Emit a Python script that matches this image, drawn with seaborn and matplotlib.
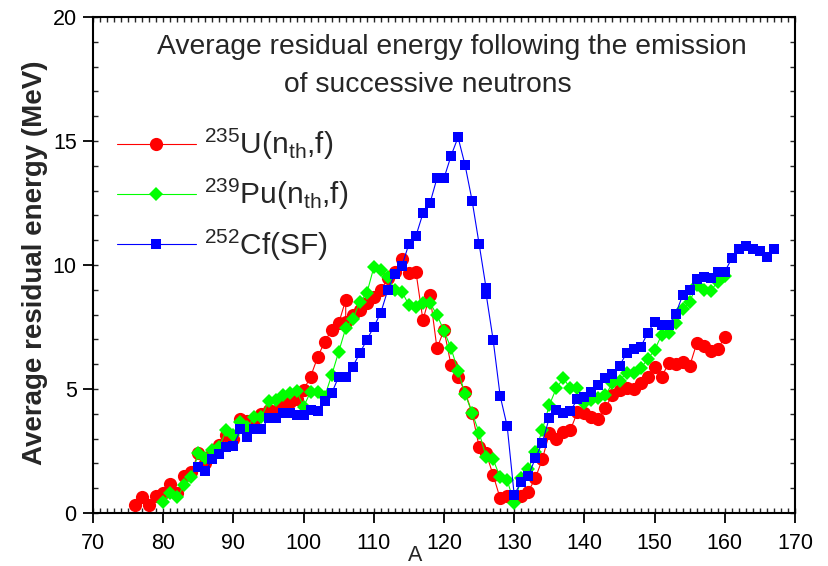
import matplotlib
matplotlib.use("Agg")
import matplotlib.pyplot as plt
import seaborn as sns
from matplotlib.ticker import MultipleLocator

# Mass number A and average residual energy (MeV) for each fissioning system
u235_A = [76, 77, 78, 79, 80, 81, 82, 83, 84, 85, 86, 87, 88, 89, 90, 91, 92, 93, 94, 95,
          96, 97, 98, 99, 100, 101, 102, 103, 104, 105, 106, 106, 107, 108, 109, 110, 111,
          112, 113, 114, 115, 116, 117, 118, 119, 120, 121, 122, 123, 124, 125, 126, 127,
          128, 129, 130, 131, 132, 133, 134, 135, 136, 137, 138, 139, 140, 141, 142, 143,
          144, 145, 146, 147, 148, 149, 150, 151, 152, 153, 154, 155, 156, 157, 158, 159, 160]
u235_E = [0.32, 0.64, 0.32, 0.68, 0.79, 1.16, 0.82, 1.49, 1.67, 2.40, 2.00, 2.43, 2.74, 3.15,
          3.00, 3.80, 3.70, 3.75, 4.00, 4.15, 4.10, 4.30, 4.49, 4.60, 4.96, 5.50, 6.28, 6.91,
          7.38, 7.65, 8.59, 7.71, 7.98, 8.19, 8.46, 8.72, 8.99, 9.46, 9.70, 10.23, 9.66, 9.73,
          7.78, 8.80, 6.64, 7.38, 5.97, 5.47, 4.89, 4.04, 2.67, 2.40, 1.53, 0.59, 0.69, 0.60,
          0.69, 0.86, 1.40, 2.16, 3.21, 3.00, 3.28, 3.35, 4.06, 4.02, 3.88, 3.78, 4.25, 4.76,
          4.96, 5.03, 4.99, 5.25, 5.50, 5.88, 5.50, 6.03, 6.01, 6.10, 5.93, 6.84, 6.73, 6.53,
          6.60, 7.11]

pu239_A = list(range(80, 161))
pu239_E = [0.46, 0.79, 0.63, 1.13, 1.47, 2.40, 2.20, 2.54, 2.67, 3.35, 3.15, 3.68, 3.45,
           3.88, 3.88, 4.50, 4.57, 4.76, 4.83, 4.93, 4.29, 4.89, 4.89, 4.69, 5.56, 6.50,
           7.45, 7.81, 8.52, 8.86, 9.90, 9.80, 9.50, 9.00, 8.92, 8.39, 8.29, 8.46, 8.48,
           7.98, 7.35, 6.64, 5.74, 4.80, 4.04, 3.24, 2.27, 2.16, 1.44, 1.33, 0.39, 1.40,
           1.76, 2.47, 3.35, 4.35, 5.03, 5.43, 5.03, 5.03, 4.45, 4.56, 4.62, 4.76, 5.23,
           5.33, 5.66, 5.63, 5.83, 6.20, 6.57, 7.18, 7.25, 7.65, 8.21, 8.52, 9.19, 8.99,
           8.96, 9.33, 9.56]

cf252_A = [85, 86, 87, 88, 89, 90, 91, 92, 93, 94, 95, 96, 97, 98, 99, 100, 101, 102, 103,
           104, 105, 106, 107, 108, 109, 110, 111, 112, 113, 114, 115, 116, 117, 118, 119,
           120, 121, 122, 123, 124, 125, 126, 126, 127, 128, 129, 130, 131, 132, 133, 134,
           135, 136, 137, 138, 139, 140, 141, 142, 143, 144, 145, 146, 147, 148, 149, 150,
           151, 152, 153, 154, 155, 156, 157, 158, 159, 160, 161, 162, 163, 164, 165, 166, 167]
cf252_E = [1.87, 1.70, 2.16, 2.38, 2.67, 2.70, 3.37, 3.08, 3.37, 3.37, 3.82, 3.82, 4.05,
           4.05, 3.95, 3.95, 4.15, 4.10, 4.50, 4.83, 5.50, 5.50, 5.90, 6.44, 6.98, 7.50,
           8.08, 9.00, 9.64, 9.96, 10.85, 11.17, 12.08, 12.49, 13.50, 13.50, 14.40, 15.15,
           14.03, 12.60, 10.85, 9.06, 8.83, 6.98, 4.72, 3.50, 0.73, 1.26, 1.49, 2.20, 2.83,
           3.84, 4.15, 4.04, 4.12, 4.58, 4.69, 4.89, 5.16, 5.43, 5.60, 5.94, 6.44, 6.60,
           6.68, 7.25, 7.71, 7.58, 7.58, 8.02, 8.79, 8.99, 9.42, 9.50, 9.46, 9.73, 9.73,
           10.27, 10.63, 10.77, 10.63, 10.57, 10.31, 10.63]

labels = [r"$^{235}$U(n$_{th}$,f)", r"$^{239}$Pu(n$_{th}$,f)", r"$^{252}$Cf(SF)"]
colors = ["#ff0000", "#00ff00", "#0000ff"]
markers = ["o", "D", "s"]
marker_sizes = [9.5, 7.0, 7.5]

sns.set_style("ticks")
plt.rcParams["font.family"] = ["Liberation Sans", "DejaVu Sans"]
plt.rcParams["mathtext.default"] = "regular"

fig = plt.figure(figsize=(8.29, 5.66), dpi=100)
ax = fig.add_axes([93 / 829, 1 - 513 / 566, 702 / 829, 496 / 566])

for A, E, lab, col, mk, ms in zip([u235_A, pu239_A, cf252_A],
                                  [u235_E, pu239_E, cf252_E],
                                  labels, colors, markers, marker_sizes):
    sns.lineplot(x=A, y=E, ax=ax, color=col, marker=mk, markersize=ms,
                 markeredgecolor=col, markeredgewidth=0, linewidth=0.8,
                 estimator=None, sort=False, label=lab)

ax.set_xlim(70, 170)
ax.set_ylim(0, 20)
ax.xaxis.set_major_locator(MultipleLocator(10))
ax.xaxis.set_minor_locator(MultipleLocator(1))
ax.yaxis.set_major_locator(MultipleLocator(5))
ax.yaxis.set_minor_locator(MultipleLocator(1))
ax.xaxis.remove_overlapping_locs = False
ax.yaxis.remove_overlapping_locs = False

ax.tick_params(which="major", direction="out", length=7.2, width=1.3,
               labelsize=15.5, colors="black")
ax.tick_params(axis="x", which="major", pad=7)
ax.tick_params(axis="y", which="major", pad=4.5)
ax.tick_params(which="minor", direction="in", length=3.5, width=1.0,
               top=True, right=True, bottom=True, left=True)

for sp in ax.spines.values():
    sp.set_visible(True)
    sp.set_linewidth(1.5)
    sp.set_color("black")

ax.set_ylabel("Average residual energy (MeV)", fontsize=20, fontweight="bold",
              va="center")
ax.yaxis.set_label_coords(-0.083, 0.504)
ax.set_xlabel("A", fontsize=15.5, va="top")
ax.xaxis.set_label_coords(0.4587, -0.064)

ax.text(0.511, 0.9395, "Average residual energy following the emission",
        transform=ax.transAxes, ha="center", va="center", fontsize=20.3)
ax.text(0.477, 0.863, "of successive neutrons",
        transform=ax.transAxes, ha="center", va="center", fontsize=20.3)

handles, labs = ax.get_legend_handles_labels()
ax.legend(handles, labs, loc="upper left", bbox_to_anchor=(0.034, 0.778),
          frameon=False, fontsize=21.5, handlelength=2.65, handletextpad=0.27,
          labelspacing=0.5, borderaxespad=0, borderpad=0)

fig.savefig("out.png", dpi=100)
